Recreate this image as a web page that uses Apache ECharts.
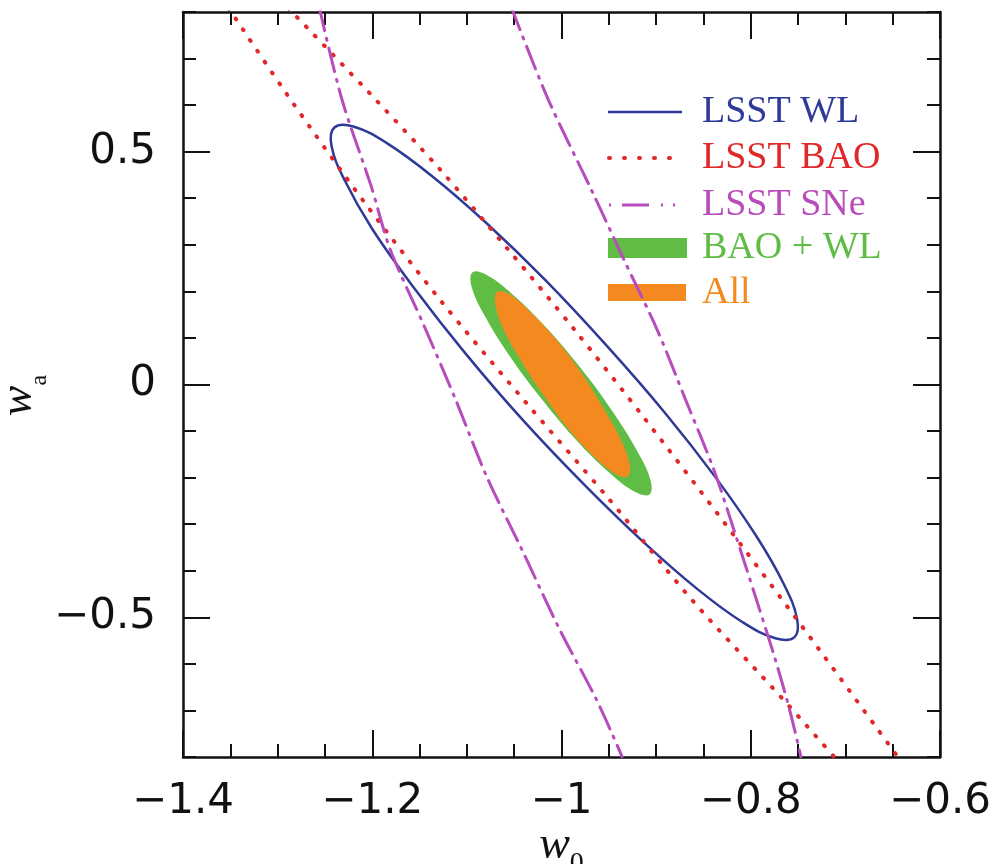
<!DOCTYPE html>
<html>
<head>
<meta charset="utf-8">
<script src="https://cdn.jsdelivr.net/npm/echarts@6/dist/echarts.min.js"></script>
<style>html,body{margin:0;padding:0;background:#fff}#chart{width:995px;height:864px}</style>
</head>
<body>
<div id="chart"></div>
<script>
// ---- tick values / labels ----
const xTickValues = [-1.4, -1.2, -1.0, -0.8, -0.6];
const xTickLabels = ['−1.4', '−1.2', '−1', '−0.8', '−0.6'];
const yTickValues = [-0.5, 0, 0.5];
const yTickLabels = ['−0.5', '0', '0.5'];
const legendNames = ['LSST WL', 'LSST BAO', 'LSST SNe', 'BAO + WL', 'All'];

// ---- contours: [w0, wa] ----
const wlContour = [
  [-0.754, -0.543], [-0.751, -0.504], [-0.765, -0.429], [-0.794, -0.326], [-0.837, -0.200],
  [-0.891, -0.060], [-0.953, 0.085], [-1.017, 0.224], [-1.080, 0.348], [-1.137, 0.448],
  [-1.185, 0.519], [-1.220, 0.554], [-1.240, 0.552], [-1.243, 0.512], [-1.229, 0.438],
  [-1.200, 0.334], [-1.156, 0.208], [-1.102, 0.068], [-1.041, -0.076], [-0.976, -0.215],
  [-0.913, -0.339], [-0.856, -0.440], [-0.809, -0.510], [-0.774, -0.545]
];
const baoLower = [
  [-1.352, 0.809], [-1.286, 0.611], [-1.210, 0.396], [-1.128, 0.181], [-1.040, -0.033],
  [-0.949, -0.248], [-0.862, -0.463], [-0.765, -0.678], [-0.710, -0.804]
];
const baoUpper = [
  [-1.289, 0.809], [-1.196, 0.611], [-1.128, 0.461], [-1.056, 0.289], [-0.986, 0.117],
  [-0.911, -0.076], [-0.830, -0.291], [-0.735, -0.549], [-0.643, -0.804]
];
const sneLeft = [
  [-1.256, 0.810], [-1.232, 0.612], [-1.201, 0.425], [-1.181, 0.290], [-1.145, 0.125],
  [-1.112, -0.032], [-1.079, -0.198], [-1.042, -0.354], [-1.002, -0.526], [-0.963, -0.677],
  [-0.936, -0.799]
];
const sneRight = [
  [-1.053, 0.810], [-1.014, 0.612], [-0.967, 0.412], [-0.934, 0.268], [-0.899, 0.118],
  [-0.869, -0.032], [-0.839, -0.183], [-0.818, -0.311], [-0.794, -0.462], [-0.774, -0.591],
  [-0.759, -0.698], [-0.747, -0.799]
];
const baoWlContour = [
  [-0.907, -0.236], [-0.906, -0.205], [-0.920, -0.143], [-0.946, -0.058], [-0.980, 0.036],
  [-1.017, 0.124], [-1.052, 0.194], [-1.079, 0.235], [-1.094, 0.241], [-1.095, 0.210],
  [-1.081, 0.147], [-1.055, 0.062], [-1.021, -0.031], [-0.984, -0.120], [-0.949, -0.190],
  [-0.922, -0.231]
];
const allContour = [
  [-0.930, -0.197], [-0.928, -0.171], [-0.937, -0.120], [-0.956, -0.050], [-0.980, 0.028],
  [-1.008, 0.102], [-1.035, 0.160], [-1.056, 0.195], [-1.068, 0.199], [-1.070, 0.174],
  [-1.062, 0.122], [-1.043, 0.052], [-1.018, -0.026], [-0.991, -0.100], [-0.964, -0.158],
  [-0.943, -0.192]
];

// ---- styles ----
const C = {
  wl: '#2e3a96', bao: '#e0282a', sne: '#b84cbc', green: '#5fbd45', orange: '#f48a1f', axis: '#111'
};
const tickFont = 'DejaVu Sans';
const BAO_DASH = [1, 12];
const SNE_DASH = [24, 8, 2, 8];

function polygonSeries(name, pts, style, smooth, z) {
  return {
    type: 'custom', name: name, data: pts, z: z, clip: true,
    renderItem: function (params, api) {
      if (params.dataIndex !== 0) return null;
      return {
        type: 'polygon',
        shape: { points: pts.map(p => api.coord(p)), smooth: smooth },
        style: style
      };
    }
  };
}
function lineSeries(name, pts, color, width, dash, z) {
  return {
    type: 'line', name: name, data: pts, smooth: 0.3, showSymbol: false, symbol: 'none',
    clip: true, z: z,
    lineStyle: { color: color, width: width, type: dash, cap: 'round' }
  };
}

function xFmt(v) {
  const i = xTickValues.findIndex(t => Math.abs(t - v) < 1e-6);
  return i >= 0 ? xTickLabels[i] : '';
}
function yFmt(v) {
  const i = yTickValues.findIndex(t => Math.abs(t - v) < 1e-6);
  return i >= 0 ? yTickLabels[i] : '';
}

const axisLineStyle = { color: C.axis, width: 2.5 };
const tickStyle = { color: C.axis, width: 2 };

function xAxisCfg(position, showLabel) {
  return {
    type: 'value', position: position, min: -1.4, max: -0.6, interval: 0.2,
    axisLine: { show: true, onZero: false, lineStyle: axisLineStyle },
    axisTick: { show: true, inside: true, length: 27, lineStyle: tickStyle },
    minorTick: { show: true, splitNumber: 4, length: 13, lineStyle: tickStyle },
    splitLine: { show: false }, minorSplitLine: { show: false },
    axisLabel: { show: showLabel, formatter: xFmt, fontFamily: tickFont, fontSize: 42, color: C.axis, margin: 24 }
  };
}
function yAxisMinor(position, showLine) {
  return {
    type: 'value', position: position, min: -0.8, max: 0.8, interval: 0.1,
    axisLine: { show: showLine, onZero: false, lineStyle: axisLineStyle },
    axisTick: { show: true, inside: true, length: 13, lineStyle: tickStyle },
    splitLine: { show: false },
    axisLabel: { show: false }
  };
}
function yAxisMajor(position, showLabel) {
  return {
    type: 'value', position: position, min: -0.8, max: 0.8, interval: 0.1,
    axisLine: { show: false, onZero: false },
    axisTick: { show: true, inside: true, length: 27, lineStyle: tickStyle, customValues: yTickValues },
    splitLine: { show: false },
    axisLabel: { show: showLabel, customValues: yTickValues, formatter: yFmt, fontFamily: tickFont, fontSize: 42, color: C.axis, margin: 27 }
  };
}

const xMain = xAxisCfg('bottom', true);
xMain.name = '{w|w}{s|0}';
xMain.nameLocation = 'middle';
xMain.nameGap = 66;
xMain.nameMoveOverlap = false;
xMain.nameTextStyle = {
  rich: {
    w: { fontFamily: 'Liberation Serif', fontStyle: 'italic', fontSize: 46, color: C.axis, verticalAlign: 'bottom', padding: [0, 0, 9, 0] },
    s: { fontFamily: 'Liberation Serif', fontSize: 28, color: C.axis, verticalAlign: 'bottom' }
  }
};
const yMain = yAxisMajor('left', true);
yMain.name = '{w|w}{s|a}';
yMain.nameLocation = 'middle';
yMain.nameRotate = 90;
yMain.nameGap = 131;
yMain.nameMoveOverlap = false;
yMain.nameTextStyle = {
  padding: [0, 22, 0, 0],
  rich: {
    w: { fontFamily: 'Liberation Serif', fontStyle: 'italic', fontSize: 46, color: C.axis, verticalAlign: 'bottom', padding: [0, 0, 10, 0] },
    s: { fontFamily: 'Liberation Serif', fontSize: 24, color: C.axis, verticalAlign: 'bottom' }
  }
};

// ---- legend (drawn as graphic elements) ----
const legendRows = [112, 158, 205, 248, 293];
const legendTextColors = [C.wl, C.bao, C.sne, C.green, C.orange];
const legendFont = 'normal 38px "Liberation Serif"';
const legendGraphics = [
  { type: 'line', shape: { x1: 608, y1: legendRows[0], x2: 682, y2: legendRows[0] }, style: { stroke: C.wl, lineWidth: 2.5 } },
  { type: 'line', shape: { x1: 609, y1: legendRows[1], x2: 682, y2: legendRows[1] }, style: { stroke: C.bao, lineWidth: 4, lineDash: [1, 14], lineCap: 'round' } },
  { type: 'line', shape: { x1: 609, y1: legendRows[2], x2: 682, y2: legendRows[2] }, style: { stroke: C.sne, lineWidth: 3, lineDash: [2, 11, 27, 12, 2, 10, 2, 20] } },
  { type: 'rect', shape: { x: 608, y: legendRows[3] - 10, width: 79, height: 20 }, style: { fill: C.green } },
  { type: 'rect', shape: { x: 608, y: legendRows[4] - 9, width: 78, height: 17 }, style: { fill: C.orange } }
];
legendNames.forEach((n, i) => {
  legendGraphics.push({
    type: 'text', x: 702, y: legendRows[i],
    style: { text: n, fill: legendTextColors[i], font: legendFont, verticalAlign: 'middle', textAlign: 'left' }
  });
});

const chart = echarts.init(document.getElementById('chart'), null, { renderer: 'canvas' });
chart.setOption({
  animation: false,
  backgroundColor: '#fff',
  grid: { left: 183, top: 12, right: 55, bottom: 107, containLabel: false, outerBoundsMode: 'none' },
  xAxis: [xMain, xAxisCfg('top', false)],
  yAxis: [yMain, yAxisMinor('left', true), yAxisMajor('right', false), yAxisMinor('right', true)],
  graphic: legendGraphics,
  series: [
    polygonSeries('BAO + WL', baoWlContour, { fill: C.green }, 0.4, 1),
    polygonSeries('All', allContour, { fill: C.orange }, 0.4, 2),
    polygonSeries('LSST WL', wlContour, { fill: 'none', stroke: C.wl, lineWidth: 2.5 }, 0.4, 3),
    lineSeries('LSST BAO', baoLower, C.bao, 4, BAO_DASH, 4),
    lineSeries('LSST BAO', baoUpper, C.bao, 4, BAO_DASH, 4),
    lineSeries('LSST SNe', sneLeft, C.sne, 3, SNE_DASH, 5),
    lineSeries('LSST SNe', sneRight, C.sne, 3, SNE_DASH, 5)
  ]
});
</script>
</body>
</html>
